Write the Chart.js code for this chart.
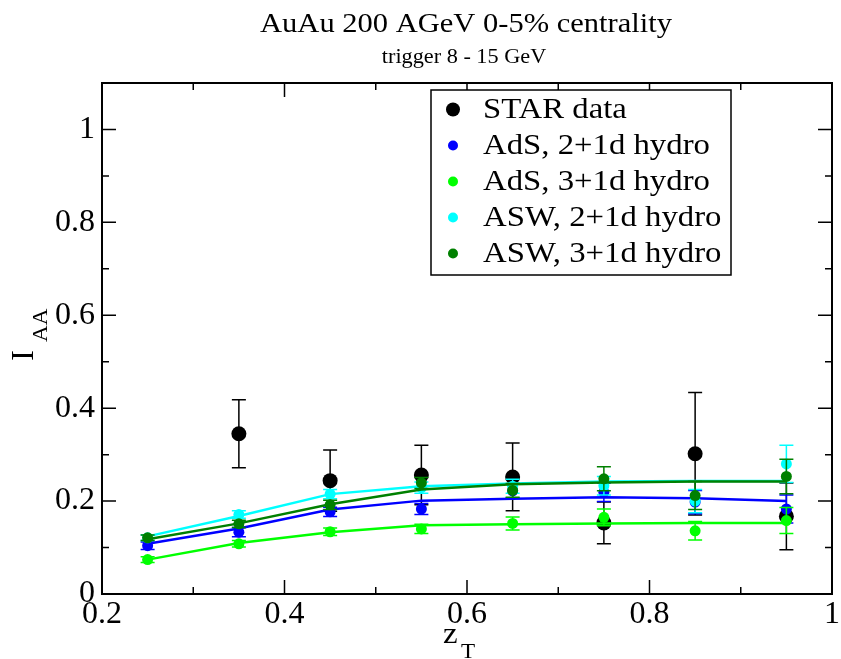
<!DOCTYPE html>
<html>
<head>
<meta charset="utf-8">
<title>I_AA vs z_T</title>
<script src="https://cdn.jsdelivr.net/npm/chart.js@4/dist/chart.umd.min.js"></script>
<style>
  html, body { margin: 0; padding: 0; background: #fff; }
  #chart { display: block; }
</style>
</head>
<body>
<canvas id="chart" width="841" height="659"></canvas>
<script>
// データ
const zT = [0.25, 0.35, 0.45, 0.55, 0.65, 0.75, 0.85, 0.95];

const starZ = [0.35, 0.45, 0.55, 0.65, 0.75, 0.85, 0.95];
const starIAA = [0.345, 0.244, 0.256, 0.252, 0.153, 0.302, 0.167];
const starErr = [0.073, 0.066, 0.064, 0.073, 0.045, 0.132, 0.072];

const ads2Pts = [0.104, 0.133, 0.177, 0.183, 0.222, 0.219, 0.198, 0.183];
const ads2Err = [0.008, 0.010, 0.010, 0.012, 0.015, 0.020, 0.025, 0.030];
const ads2Line = [0.108, 0.141, 0.182, 0.201, 0.205, 0.208, 0.206, 0.200];

const ads3Pts = [0.074, 0.108, 0.134, 0.140, 0.152, 0.165, 0.136, 0.158];
const ads3Err = [0.006, 0.007, 0.008, 0.010, 0.014, 0.018, 0.020, 0.028];
const ads3Line = [0.074, 0.110, 0.133, 0.148, 0.150, 0.152, 0.153, 0.153];

const asw2Pts = [0.121, 0.171, 0.215, 0.229, 0.232, 0.233, 0.200, 0.280];
const asw2Err = [0.006, 0.008, 0.010, 0.012, 0.015, 0.020, 0.025, 0.040];
const asw2Line = [0.124, 0.168, 0.215, 0.232, 0.238, 0.242, 0.243, 0.243];

const asw3Pts = [0.121, 0.151, 0.192, 0.239, 0.223, 0.248, 0.212, 0.253];
const asw3Err = [0.006, 0.008, 0.010, 0.012, 0.015, 0.026, 0.030, 0.037];
const asw3Line = [0.118, 0.152, 0.193, 0.225, 0.236, 0.240, 0.242, 0.242];

const xTicks = [0.2, 0.4, 0.6, 0.8, 1.0];
const yTicks = [0, 0.2, 0.4, 0.6, 0.8, 1.0];

const FONT = "'Liberation Serif', 'Times New Roman', serif";

function pts(xs, ys) {
    return xs.map((x, i) => ({ x: x, y: ys[i] }));
}

function pointSet(label, xs, ys, errs, color, radius, order) {
    return {
        type: "scatter",
        label: label,
        data: pts(xs, ys),
        errors: errs,
        backgroundColor: color,
        borderColor: color,
        pointRadius: radius,
        pointBorderWidth: 0,
        showLine: false,
        order: order,
    };
}

function lineSet(ys, color, order) {
    return {
        type: "line",
        label: "",
        data: pts(zT, ys),
        borderColor: color,
        borderWidth: 2.5,
        pointRadius: 0,
        tension: 0,
        fill: false,
        order: order,
    };
}

// 横に少し伸ばして文字を描く (元の図のフォントは幅が広い)
function wideText(ctx, text, x, y, size, stretch, align) {
    ctx.save();
    ctx.font = size + "px " + FONT;
    ctx.textAlign = align;
    ctx.translate(x, y);
    ctx.scale(stretch, 1);
    ctx.fillText(text, 0, 0);
    ctx.restore();
}

// エラーバー
const errorBars = {
    id: "errorBars",
    beforeDatasetDraw(chart, args) {
        const ds = chart.data.datasets[args.index];
        if (!ds.errors) return;
        const ctx = chart.ctx;
        const xs = chart.scales.x;
        const ys = chart.scales.y;
        ctx.save();
        ctx.strokeStyle = ds.borderColor;
        ctx.lineWidth = 1.5;
        ds.data.forEach((p, i) => {
            const e = ds.errors[i];
            const px = xs.getPixelForValue(p.x);
            const top = ys.getPixelForValue(p.y + e);
            const bot = ys.getPixelForValue(p.y - e);
            ctx.beginPath();
            ctx.moveTo(px, top);
            ctx.lineTo(px, bot);
            ctx.moveTo(px - 7, top);
            ctx.lineTo(px + 7, top);
            ctx.moveTo(px - 7, bot);
            ctx.lineTo(px + 7, bot);
            ctx.stroke();
        });
        ctx.restore();
    },
};

// 枠、内向きの目盛り、タイトル、凡例
const decor = {
    id: "decor",
    afterDraw(chart) {
        const ctx = chart.ctx;
        const a = chart.chartArea;
        const xs = chart.scales.x;
        const ys = chart.scales.y;
        ctx.save();
        ctx.strokeStyle = "#000";
        ctx.lineWidth = 2;
        ctx.strokeRect(a.left, a.top, a.right - a.left, a.bottom - a.top);

        ctx.lineWidth = 1.5;
        ctx.beginPath();
        for (let v = 0.2; v <= 1.0001; v += 0.1) {
            const major = Math.round(v * 10) % 2 === 0;
            const len = major ? 14 : 7;
            const px = xs.getPixelForValue(v);
            ctx.moveTo(px, a.bottom);
            ctx.lineTo(px, a.bottom - len);
            ctx.moveTo(px, a.top);
            ctx.lineTo(px, a.top + len);
        }
        for (let v = 0; v <= 1.0001; v += 0.1) {
            const major = Math.round(v * 10) % 2 === 0;
            const len = major ? 14 : 7;
            const py = ys.getPixelForValue(v);
            ctx.moveTo(a.left, py);
            ctx.lineTo(a.left + len, py);
            ctx.moveTo(a.right, py);
            ctx.lineTo(a.right - len, py);
        }
        ctx.stroke();

        // タイトル
        ctx.fillStyle = "#000";
        ctx.textBaseline = "alphabetic";
        wideText(ctx, "AuAu 200 AGeV 0-5% centrality", 466, 32, 28, 1.09, "center");
        wideText(ctx, "trigger 8 - 15 GeV", 464, 63, 21, 1.06, "center");

        // x軸タイトル z_T
        wideText(ctx, "z", 443, 643, 30, 1.1, "left");
        wideText(ctx, "T", 461, 658, 22, 1.05, "left");

        // y軸タイトル I_AA
        ctx.save();
        ctx.translate(33, 361);
        ctx.rotate(-Math.PI / 2);
        wideText(ctx, "I", 0, 0, 31, 1.05, "left");
        wideText(ctx, "AA", 19, 14, 22, 1.05, "left");
        ctx.restore();

        // 凡例
        const lx = 431, ly = 90, lw = 300, lh = 185;
        ctx.fillStyle = "#fff";
        ctx.fillRect(lx, ly, lw, lh);
        ctx.strokeStyle = "#000";
        ctx.lineWidth = 1.5;
        ctx.strokeRect(lx, ly, lw, lh);
        const items = chart.data.datasets.filter(d => d.errors);
        items.sort((p, q) => q.order - p.order);
        ctx.textBaseline = "middle";
        items.forEach((d, i) => {
            const cy = ly + 19.5 + i * 36;
            ctx.fillStyle = d.backgroundColor;
            ctx.beginPath();
            ctx.arc(lx + 22, cy, d.pointRadius > 6 ? 7 : 5, 0, Math.PI * 2);
            ctx.fill();
            ctx.fillStyle = "#000";
            wideText(ctx, d.label, lx + 52, cy + 1, 29, 1.13, "left");
        });
        ctx.restore();
    },
};

const datasets = [
    pointSet("STAR data", starZ, starIAA, starErr, "#000000", 7.5, 20),
    lineSet(ads2Line, "#0000ff", 19),
    pointSet("AdS, 2+1d hydro", zT, ads2Pts, ads2Err, "#0000ff", 5.5, 18),
    lineSet(ads3Line, "#00ff00", 17),
    pointSet("AdS, 3+1d hydro", zT, ads3Pts, ads3Err, "#00ff00", 5.5, 16),
    lineSet(asw2Line, "#00ffff", 15),
    pointSet("ASW, 2+1d hydro", zT, asw2Pts, asw2Err, "#00ffff", 5.5, 14),
    lineSet(asw3Line, "#008000", 13),
    pointSet("ASW, 3+1d hydro", zT, asw3Pts, asw3Err, "#008000", 5.5, 12),
];

new Chart(document.getElementById("chart"), {
    type: "scatter",
    data: { datasets: datasets },
    options: {
        responsive: false,
        animation: false,
        devicePixelRatio: 1,
        layout: { padding: { top: 83, right: 9, bottom: 0, left: 0 } },
        plugins: {
            legend: { display: false },
            title: { display: false },
            tooltip: { enabled: false },
        },
        scales: {
            x: {
                type: "linear",
                min: 0.2,
                max: 1.0,
                afterFit: (s) => { s.height = 65; },
                afterBuildTicks: (s) => { s.ticks = xTicks.map(v => ({ value: v })); },
                grid: { display: false, drawTicks: false },
                border: { display: false },
                ticks: {
                    padding: 1,
                    color: "#000",
                    font: { family: FONT, size: 32 },
                    maxRotation: 0,
                    callback: (v) => String(Math.round(v * 10) / 10),
                },
            },
            y: {
                type: "linear",
                min: 0,
                max: 1.1,
                afterFit: (s) => { s.width = 102; },
                afterBuildTicks: (s) => { s.ticks = yTicks.map(v => ({ value: v })); },
                grid: { display: false, drawTicks: false },
                border: { display: false },
                ticks: {
                    padding: 7,
                    color: "#000",
                    font: { family: FONT, size: 32 },
                    callback: (v) => String(Math.round(v * 10) / 10),
                },
            },
        },
    },
    plugins: [errorBars, decor],
});
</script>
</body>
</html>
